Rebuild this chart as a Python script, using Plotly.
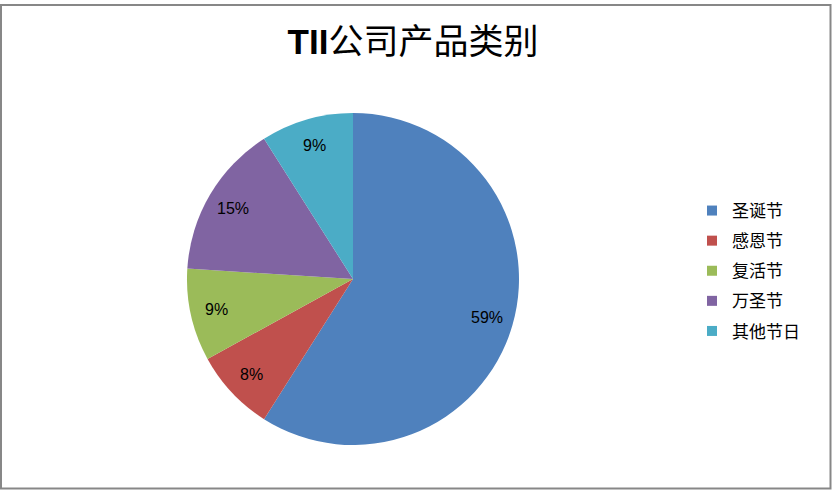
import math
import plotly.graph_objects as go

categories = ["圣诞节", "感恩节", "复活节", "万圣节", "其他节日"]
values = [59, 8, 9, 15, 9]
colors = ["#4F81BD", "#C0504D", "#9BBB59", "#8064A2", "#4BACC6"]

W, H = 835, 490
cx, cy, r = 353, 279, 166
label_frac = 0.84

fig = go.Figure()
fig.add_trace(go.Pie(
    labels=categories,
    values=values,
    sort=False,
    direction="clockwise",
    rotation=0,
    marker=dict(colors=colors, line=dict(width=0)),
    textinfo="none",
    showlegend=False,
    domain=dict(x=[(cx - r) / W, (cx + r) / W], y=[(H - cy - r) / H, (H - cy + r) / H]),
    hoverinfo="label+percent",
))

# legend entries
for i, (name, col) in enumerate(zip(categories, colors)):
    fig.add_trace(go.Scatter(
        x=[None], y=[None], mode="markers", name=name,
        marker=dict(symbol="square", size=10, color=col),
        legendgroup=str(i), showlegend=True, hoverinfo="skip",
    ))

# percentage labels placed from the data
total = sum(values)
annotations = []
cum = 0
for v in values:
    mid = (cum + v / 2) / total * 2 * math.pi
    cum += v
    px = cx + label_frac * r * math.sin(mid)
    py = cy - label_frac * r * math.cos(mid)
    annotations.append(dict(
        x=px / W, y=1 - py / H, xref="paper", yref="paper",
        text=f"{round(v / total * 100)}%", showarrow=False,
        font=dict(family="Liberation Sans, Noto Sans CJK SC", size=16, color="black"),
        xanchor="center", yanchor="middle",
    ))

fig.update_layout(
    width=W, height=H,
    margin=dict(l=0, r=0, t=0, b=0),
    paper_bgcolor="white",
    plot_bgcolor="rgba(0,0,0,0)",
    xaxis=dict(visible=False),
    yaxis=dict(visible=False),
    title=dict(
        text="<b>TII</b>公司产品类别",
        x=413 / W, xanchor="center", y=1 - 42 / H, yanchor="middle",
        font=dict(family="Liberation Sans, Noto Sans CJK SC", size=35, color="black"),
    ),
    legend=dict(
        x=692 / W, xanchor="left", y=1 - 271 / H, yanchor="middle",
        font=dict(family="Noto Sans CJK SC", size=17, color="black"),
        bgcolor="rgba(0,0,0,0)",
        tracegroupgap=5,
    ),
    annotations=annotations,
    shapes=[dict(
        type="rect", xref="paper", yref="paper",
        x0=1 / W, x1=830.5 / W, y0=1 - 488.5 / H, y1=1 - 5 / H,
        line=dict(color="#878787", width=2),
    )],
)

fig.write_html("out.html", config={"displayModeBar": False},
               post_script="document.body.style.margin='0';")
